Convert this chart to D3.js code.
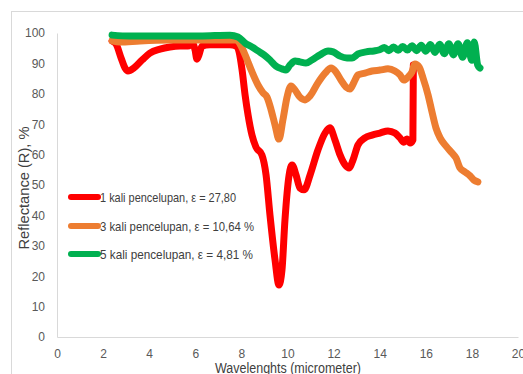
<!DOCTYPE html>
<html>
<head>
<meta charset="utf-8">
<script src="https://cdn.jsdelivr.net/npm/d3@7"></script>
<style>
  html, body { margin: 0; padding: 0; background: #fff; }
  svg { display: block; }
  text { font-family: "Liberation Sans", Arial, sans-serif; }
</style>
</head>
<body>
<svg id="chart" width="523" height="374"></svg>
<script>
// Reflectance spectra for three dip-coating repetitions
const seriesNames = [
  "1 kali pencelupan, \u03b5 = 27,80",
  "3 kali pencelupan, \u03b5 = 10,64 %",
  "5 kali pencelupan, \u03b5 = 4,81 %"
];
const seriesColors = ["#ff0000", "#ed7d31", "#00b050"];

// wavelength (micrometer), reflectance (%)
const wl1 = [2.39, 2.56, 2.78, 2.95, 3.08, 3.34, 3.69, 4.03, 4.47, 4.90, 5.34, 5.68, 5.90, 5.99, 6.07, 6.16, 6.29, 6.64, 7.07, 7.50, 7.77, 7.90, 8.03, 8.16, 8.29, 8.46, 8.63, 8.89, 9.07, 9.24, 9.46, 9.63, 9.76, 9.89, 10.07, 10.20, 10.37, 10.54, 10.72, 10.98, 11.32, 11.63, 11.84, 12.06, 12.28, 12.50, 12.67, 12.84, 13.06, 13.36, 13.67, 14.01, 14.36, 14.66, 14.88, 15.05, 15.18, 15.32, 15.44, 15.46];
const r1  = [97.4, 96.4, 91.8, 88.5, 87.5, 88.5, 91.1, 93.4, 94.7, 95.4, 95.7, 95.7, 96.4, 94.4, 91.4, 92.8, 95.7, 96.1, 96.1, 96.1, 95.7, 93.8, 87.8, 79.6, 73.0, 66.4, 62.5, 59.9, 53.3, 40.1, 25.3, 17.1, 22.0, 38.5, 53.3, 56.6, 53.3, 49.0, 48.4, 53.3, 61.5, 67.1, 68.8, 64.8, 59.9, 56.6, 55.6, 58.2, 63.2, 65.5, 66.4, 67.1, 67.8, 67.1, 65.5, 64.1, 65.1, 63.8, 64.8, 89.5];

const wl3 = [2.39, 2.73, 3.60, 4.90, 6.20, 7.77, 7.94, 8.16, 8.46, 8.72, 8.94, 9.11, 9.29, 9.46, 9.63, 9.80, 9.98, 10.15, 10.33, 10.54, 10.76, 10.98, 11.32, 11.63, 11.89, 12.10, 12.32, 12.54, 12.71, 12.89, 13.06, 13.36, 13.67, 14.01, 14.36, 14.66, 14.88, 15.05, 15.23, 15.40, 15.53, 15.71, 15.88, 16.10, 16.27, 16.44, 16.62, 16.88, 17.14, 17.31, 17.48, 17.70, 17.92, 18.09, 18.26];
const r3  = [97.4, 97.0, 97.4, 97.7, 97.7, 97.7, 96.4, 92.8, 87.2, 82.9, 80.3, 78.9, 74.7, 69.7, 65.1, 71.4, 78.9, 82.6, 81.2, 78.9, 78.0, 79.3, 83.6, 86.8, 88.5, 87.2, 84.5, 82.2, 81.6, 83.9, 86.2, 86.8, 87.5, 87.8, 88.2, 87.5, 86.2, 84.5, 85.5, 87.2, 89.8, 88.8, 85.2, 79.6, 74.0, 68.8, 65.5, 62.8, 60.5, 58.9, 55.6, 54.3, 53.0, 51.6, 51.0];

const wl5 = [2.39, 3.17, 4.47, 6.20, 7.50, 7.85, 8.16, 8.46, 8.72, 8.98, 9.24, 9.50, 9.76, 9.93, 10.11, 10.33, 10.54, 10.80, 11.06, 11.41, 11.76, 11.98, 12.28, 12.58, 12.80, 13.06, 13.41, 13.75, 14.00, 14.20, 14.40, 14.60, 14.80, 15.00, 15.20, 15.40, 15.60, 15.80, 16.00, 16.20, 16.40, 16.60, 16.80, 17.00, 17.20, 17.40, 17.60, 17.80, 18.00, 18.10, 18.25, 18.35];
const r5  = [99.3, 99.0, 99.0, 99.0, 99.3, 98.7, 96.7, 95.4, 94.1, 92.8, 91.1, 89.1, 88.2, 87.8, 89.5, 90.8, 90.5, 90.1, 91.1, 92.8, 94.1, 93.8, 92.4, 91.8, 91.8, 93.1, 93.8, 94.1, 94.5, 95.2, 94.2, 95.4, 94.3, 95.6, 94.4, 95.8, 94.2, 96.0, 94.0, 96.2, 93.6, 96.3, 93.2, 96.5, 92.8, 96.5, 92.0, 96.8, 91.0, 97.0, 89.5, 88.5];

const xTicks = [0, 2, 4, 6, 8, 10, 12, 14, 16, 18, 20];
const yTicks = [0, 10, 20, 30, 40, 50, 60, 70, 80, 90, 100];

const series = [
  { name: seriesNames[0], color: seriesColors[0], pts: wl1.map((w, i) => [w, r1[i]]) },
  { name: seriesNames[1], color: seriesColors[1], pts: wl3.map((w, i) => [w, r3[i]]) },
  { name: seriesNames[2], color: seriesColors[2], pts: wl5.map((w, i) => [w, r5[i]]) }
];

const svg = d3.select("#chart");

// chart area frame
svg.append("rect")
  .attr("x", 11.5).attr("y", 11.5)
  .attr("width", 540).attr("height", 400)
  .attr("fill", "#fff").attr("stroke", "#d9d9d9");

const plot = { left: 57, right: 518, top: 33, bottom: 337 };
const x = d3.scaleLinear().domain([0, 20]).range([plot.left, plot.right]);
const y = d3.scaleLinear().domain([0, 100]).range([plot.bottom, plot.top]);

// axes
const xAxis = svg.append("g")
  .attr("transform", `translate(0,${plot.bottom})`)
  .call(d3.axisBottom(x).tickValues(xTicks).tickSize(0).tickPadding(12));
const yAxis = svg.append("g")
  .attr("transform", `translate(${plot.left},0)`)
  .call(d3.axisLeft(y).tickValues(yTicks).tickSize(0).tickPadding(12));

[xAxis, yAxis].forEach(g => {
  g.select(".domain").attr("stroke", "#d9d9d9").attr("stroke-width", 1);
  g.selectAll("text")
    .attr("fill", "#595959")
    .style("font-family", "'Liberation Sans', Arial, sans-serif")
    .style("font-size", "12px");
});

// series lines
const line = d3.line()
  .x(d => x(d[0]))
  .y(d => y(d[1]))
  .curve(d3.curveMonotoneX);

svg.append("g").selectAll("path")
  .data(series)
  .join("path")
  .attr("d", d => line(d.pts))
  .attr("fill", "none")
  .attr("stroke", d => d.color)
  .attr("stroke-width", 7)
  .attr("stroke-linejoin", "round")
  .attr("stroke-linecap", "round");

// legend
const legend = svg.append("g");
const legendRows = [197, 226, 254];
const legendWidths = [136, 154, 153];
series.forEach((s, i) => {
  legend.append("line")
    .attr("x1", 71).attr("x2", 98)
    .attr("y1", legendRows[i]).attr("y2", legendRows[i])
    .attr("stroke", s.color).attr("stroke-width", 6)
    .attr("stroke-linecap", "round");
  legend.append("text")
    .attr("x", 100).attr("y", legendRows[i])
    .attr("dy", "0.35em")
    .attr("fill", "#404040")
    .attr("textLength", legendWidths[i])
    .attr("lengthAdjust", "spacingAndGlyphs")
    .style("font-size", "13px")
    .text(s.name);
});

// axis titles
svg.append("text")
  .attr("transform", "translate(29,188) rotate(-90)")
  .attr("text-anchor", "middle")
  .attr("fill", "#404040")
  .attr("textLength", 123)
  .attr("lengthAdjust", "spacingAndGlyphs")
  .style("font-size", "15px")
  .text("Reflectance (R), %");

svg.append("text")
  .attr("x", 288).attr("y", 373)
  .attr("text-anchor", "middle")
  .attr("fill", "#404040")
  .attr("textLength", 146)
  .attr("lengthAdjust", "spacingAndGlyphs")
  .style("font-size", "14px")
  .text("Wavelenghts (micrometer)");
</script>
</body>
</html>
